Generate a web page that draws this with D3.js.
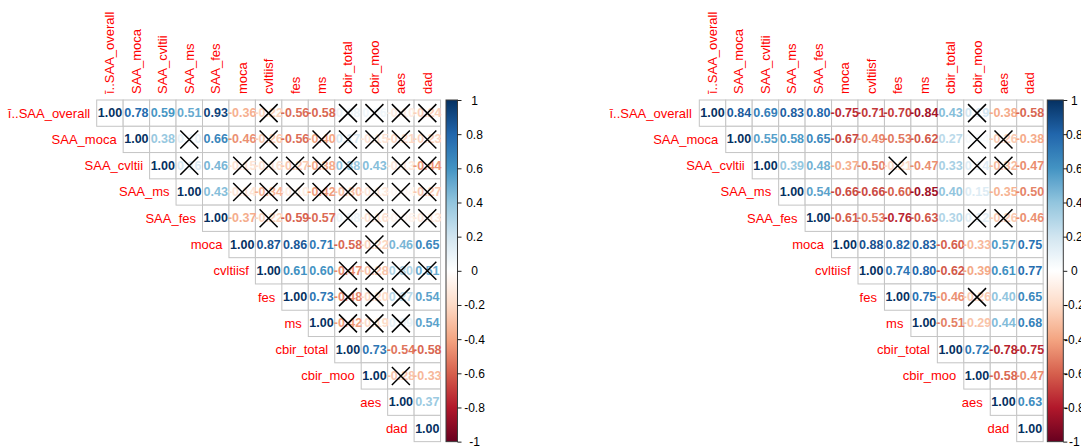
<!DOCTYPE html>
<html>
<head>
<meta charset="utf-8">
<script src="https://cdn.jsdelivr.net/npm/d3@7"></script>
<style>
  html, body { margin: 0; padding: 0; background: #ffffff; }
  svg { display: block; }
</style>
</head>
<body>
<svg id="chart" width="1081" height="446"></svg>
<script>
// Variable names, shared by both matrices
const variables = ["ī..SAA_overall", "SAA_moca", "SAA_cvltii", "SAA_ms", "SAA_fes",
  "moca", "cvltiisf", "fes", "ms", "cbir_total", "cbir_moo", "aes", "dad"];

// Upper-triangle correlations, row i holds columns i..12
const leftCorr = [
  [1.00, 0.78, 0.59, 0.51, 0.93, -0.36, -0.22, -0.56, -0.58, 0.08, 0.06, -0.10, -0.24],
  [1.00, 0.38, 0.10, 0.66, -0.46, -0.26, -0.56, -0.40, 0.17, -0.15, -0.21, -0.23],
  [1.00, 0.16, 0.46, -0.15, -0.16, -0.27, -0.38, 0.38, 0.43, -0.13, -0.44],
  [1.00, 0.43, -0.14, -0.34, -0.10, -0.42, -0.30, -0.13, -0.04, -0.27],
  [1.00, -0.37, -0.22, -0.59, -0.57, 0.08, -0.16, -0.06, -0.13],
  [1.00, 0.87, 0.86, 0.71, -0.58, -0.22, 0.46, 0.65],
  [1.00, 0.61, 0.60, -0.47, -0.28, 0.30, 0.51],
  [1.00, 0.73, -0.48, -0.20, 0.27, 0.54],
  [1.00, -0.42, -0.19, 0.09, 0.54],
  [1.00, 0.73, -0.54, -0.58],
  [1.00, -0.28, -0.33],
  [1.00, 0.37],
  [1.00]
];
// Column indices of non-significant cells (crossed out), per row
const leftCrossed = [
  [6, 9, 10, 11, 12],
  [3, 6, 8, 9, 10, 11, 12],
  [3, 5, 6, 7, 8, 9, 11, 12],
  [5, 6, 7, 8, 9, 10, 11, 12],
  [6, 9, 10, 11, 12],
  [10],
  [9, 10, 11, 12],
  [9, 10, 11],
  [9, 10, 11],
  [],
  [11],
  [],
  []
];

const rightCorr = [
  [1.00, 0.84, 0.69, 0.83, 0.80, -0.75, -0.71, -0.70, -0.84, 0.43, 0.19, -0.38, -0.58],
  [1.00, 0.55, 0.58, 0.65, -0.67, -0.49, -0.53, -0.62, 0.27, 0.04, -0.26, -0.38],
  [1.00, 0.39, 0.48, -0.37, -0.50, -0.21, -0.47, 0.33, 0.14, -0.32, -0.47],
  [1.00, 0.54, -0.66, -0.66, -0.60, -0.85, 0.40, 0.15, -0.35, -0.50],
  [1.00, -0.61, -0.53, -0.76, -0.63, 0.30, 0.12, -0.26, -0.46],
  [1.00, 0.88, 0.82, 0.83, -0.60, -0.33, 0.57, 0.75],
  [1.00, 0.74, 0.80, -0.62, -0.39, 0.61, 0.77],
  [1.00, 0.75, -0.46, -0.26, 0.40, 0.65],
  [1.00, -0.51, -0.29, 0.44, 0.68],
  [1.00, 0.72, -0.78, -0.75],
  [1.00, -0.58, -0.47],
  [1.00, 0.63],
  [1.00]
];
const rightCrossed = [
  [10],
  [10, 11],
  [7, 10, 11],
  [],
  [10, 11],
  [],
  [],
  [10],
  [],
  [],
  [],
  [],
  []
];

// Colour legend ticks
const legendTicks = [1, 0.8, 0.6, 0.4, 0.2, 0, -0.2, -0.4, -0.6, -0.8, -1];

// Diverging red-blue palette, -1 .. 1
const paletteStops = ["#67001F", "#B2182B", "#D6604D", "#F4A582", "#FDDBC7", "#FFFFFF",
  "#D1E5F0", "#92C5DE", "#4393C3", "#2166AC", "#053061"];
const color = d3.scaleLinear()
  .domain(d3.range(paletteStops.length).map(i => -1 + 2 * i / (paletteStops.length - 1)))
  .range(paletteStops)
  .interpolate(d3.interpolateRgb)
  .clamp(true);

const svg = d3.select("#chart");
const defs = svg.append("defs");

const fmt = v => v.toFixed(2);
const tickFmt = v => {
  const r = Math.round(v * 10) / 10;
  return r === 0 ? "0" : String(r);
};

function drawPanel(cfg, corr, crossed, id) {
  const n = variables.length;
  const g = svg.append("g").attr("class", "panel-" + id);

  const x = d3.scaleBand().domain(variables).range([cfg.x0, cfg.x0 + n * cfg.cellW]);
  const y = d3.scaleBand().domain(variables).range([cfg.y0, cfg.y0 + n * cfg.cellH]);

  // flatten upper triangle
  const cells = [];
  corr.forEach((row, i) => {
    row.forEach((v, k) => {
      const j = i + k;
      cells.push({
        row: variables[i], col: variables[j], value: v,
        crossed: crossed[i].includes(j)
      });
    });
  });

  // cell boxes
  g.append("g").selectAll("rect")
    .data(cells)
    .join("rect")
    .attr("x", d => x(d.col))
    .attr("y", d => y(d.row))
    .attr("width", x.bandwidth())
    .attr("height", y.bandwidth())
    .attr("fill", "#ffffff")
    .attr("stroke", "#c4c4c4")
    .attr("stroke-width", 1);

  // coefficient labels
  g.append("g").selectAll("text")
    .data(cells)
    .join("text")
    .attr("x", d => x(d.col) + x.bandwidth() / 2)
    .attr("y", d => y(d.row) + y.bandwidth() / 2)
    .attr("text-anchor", "middle")
    .attr("dominant-baseline", "central")
    .attr("font-family", "'Liberation Sans', Arial, sans-serif")
    .attr("font-weight", "bold")
    .attr("font-size", "12.5px")
    .attr("fill", d => color(d.value))
    .text(d => fmt(d.value));

  // crosses for non-significant cells
  const h = cfg.cross;
  g.append("g").selectAll("path")
    .data(cells.filter(d => d.crossed))
    .join("path")
    .attr("d", d => {
      const cx = x(d.col) + x.bandwidth() / 2;
      const cy = y(d.row) + y.bandwidth() / 2;
      return `M${cx - h},${cy - h}L${cx + h},${cy + h}M${cx - h},${cy + h}L${cx + h},${cy - h}`;
    })
    .attr("stroke", "#000000")
    .attr("stroke-width", 1.5)
    .attr("fill", "none");

  // column labels (rotated)
  g.append("g").selectAll("text")
    .data(variables)
    .join("text")
    .attr("transform", d => `translate(${x(d) + x.bandwidth() / 2},${cfg.y0 - 6}) rotate(-90)`)
    .attr("text-anchor", "start")
    .attr("dominant-baseline", "central")
    .attr("font-family", "'Liberation Sans', Arial, sans-serif")
    .attr("font-size", "13px")
    .attr("fill", "#FF0000")
    .text(d => d);

  // row labels, right-aligned next to the diagonal
  g.append("g").selectAll("text")
    .data(variables)
    .join("text")
    .attr("x", d => x(d) - cfg.labelGap)
    .attr("y", d => y(d) + y.bandwidth() / 2)
    .attr("text-anchor", "end")
    .attr("dominant-baseline", "central")
    .attr("font-family", "'Liberation Sans', Arial, sans-serif")
    .attr("font-size", "13px")
    .attr("fill", "#FF0000")
    .text(d => d);

  // colour legend
  const top = cfg.y0, bottom = cfg.y0 + n * cfg.cellH;
  const ly = d3.scaleLinear().domain([-1, 1]).range([bottom, top]);
  const gradId = "grad-" + id;
  const grad = defs.append("linearGradient")
    .attr("id", gradId)
    .attr("x1", 0).attr("y1", 1).attr("x2", 0).attr("y2", 0);
  grad.selectAll("stop")
    .data(d3.range(0, 41).map(i => -1 + i / 20))
    .join("stop")
    .attr("offset", d => ((d + 1) / 2 * 100) + "%")
    .attr("stop-color", d => color(d));

  g.append("rect")
    .attr("x", cfg.barX)
    .attr("y", ly(1))
    .attr("width", cfg.barW)
    .attr("height", ly(-1) - ly(1))
    .attr("fill", `url(#${gradId})`)
    .attr("stroke", "#3a3a3a")
    .attr("stroke-width", 1);

  const axis = d3.axisRight(ly)
    .tickValues(legendTicks)
    .tickSize(4)
    .tickFormat(tickFmt);
  const ag = g.append("g")
    .attr("transform", `translate(${cfg.barX + cfg.barW},0)`)
    .call(axis);
  ag.select(".domain").remove();
  ag.selectAll(".tick line").attr("stroke", "#222");
  ag.selectAll(".tick text")
    .attr("x", cfg.tickLabelDx)
    .attr("dy", null)
    .attr("dominant-baseline", "central")
    .attr("text-anchor", "middle")
    .attr("font-family", "'Liberation Sans', Arial, sans-serif")
    .attr("font-size", "12px")
    .attr("fill", "#000");
}

drawPanel({ x0: 96.7, y0: 100, cellW: 26.45, cellH: 26.28, cross: 9, labelGap: 6.5,
  barX: 446, barW: 11.5, tickLabelDx: 17 }, leftCorr, leftCrossed, "a");
drawPanel({ x0: 699.3, y0: 100, cellW: 26.45, cellH: 26.28, cross: 9, labelGap: 7.5,
  barX: 1047.3, barW: 16, tickLabelDx: 11 }, rightCorr, rightCrossed, "b");
</script>
</body>
</html>
